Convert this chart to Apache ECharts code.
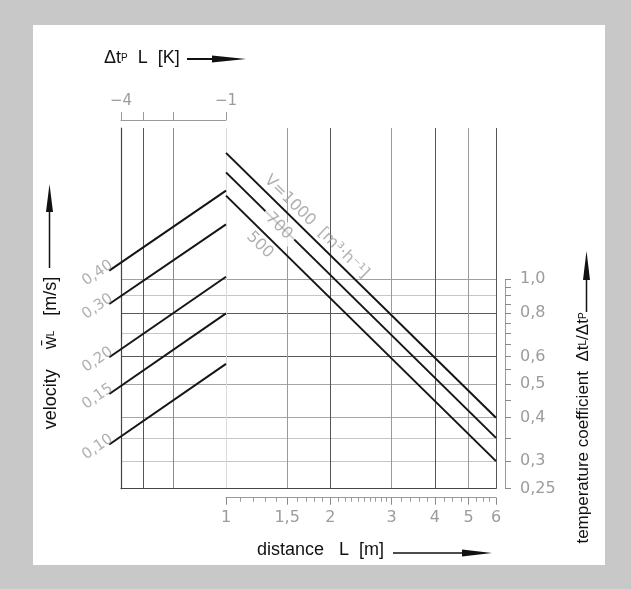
<!DOCTYPE html>
<html>
<head>
<meta charset="utf-8">
<script src="https://cdn.jsdelivr.net/npm/echarts@6/dist/echarts.min.js"></script>
<style>
  html, body { margin: 0; padding: 0; background: #c8c8c8; }
  #chart { width: 631px; height: 589px; }
</style>
</head>
<body>
<div id="chart"></div>
<script>
// Flow-rate lines: temperature coefficient at both ends of the distance range
const flowRates = ['1000', '700', '500'];
const distanceEnds = [1, 6];
const coefAtStart = [2.31, 2.03, 1.74];
const coefAtEnd = [0.40, 0.35, 0.30];

// Velocity lines on the Δtp·L side (|Δtp·L| in K, plotted on the shared coefficient scale)
const velocities = ['0,40', '0,30', '0,20', '0,15', '0,10'];
const dtLEnds = [4.67, 1];
const velStart = [1.059, 0.849, 0.597, 0.468, 0.335];
const velEnd = [1.798, 1.439, 1.017, 0.798, 0.571];

// Distance axis (m)
const distanceTicks = [1, 1.5, 2, 3, 4, 5, 6];
const distanceLabels = ['1', '1,5', '2', '3', '4', '5', '6'];
const distanceMinorTicks = [1.1, 1.2, 1.3, 1.4, 1.6, 1.7, 1.8, 1.9, 2.1, 2.2, 2.3, 2.4, 2.5,
  2.6, 2.7, 2.8, 2.9, 3.2, 3.4, 3.6, 3.8, 4.25, 4.5, 4.75, 5.25, 5.5, 5.75];

// Δtp·L axis (K), drawn reversed
const dtLTicks = [1, 2, 3, 4];
const dtLLabeled = [1, 4];
const dtLLabels = ['−1', '−4'];

// Temperature coefficient axis
const coefTicks = [0.25, 0.3, 0.35, 0.4, 0.45, 0.5, 0.55, 0.6, 0.65, 0.7, 0.75, 0.8, 0.85, 0.9, 0.95, 1.0];
const coefLabeled = [0.25, 0.3, 0.4, 0.5, 0.6, 0.8, 1.0];
const coefLabels = ['0,25', '0,3', '0,4', '0,5', '0,6', '0,8', '1,0'];
const coefGrid = [0.3, 0.35, 0.4, 0.5, 0.6, 0.7, 0.8, 0.9, 1.0];

// ---- layout ----
const W = 631, H = 589;
const PLOT_TOP = 128, PLOT_BOTTOM_Y = 488.7;
const X_EXT = 107, X_LEFT = 121, X_MID = 226, X_RIGHT = 496;
const DECADE_PX = 347.8;              // pixels per decade on the log-log part
const COEF_MIN = 0.25;
const COEF_MAX = COEF_MIN * Math.pow(10, (PLOT_BOTTOM_Y - PLOT_TOP) / DECADE_PX);
const COEF_BRACKET_TOP = PLOT_BOTTOM_Y - DECADE_PX * Math.log10(1.0 / COEF_MIN);
const DTL_MAX = 4;
const DTL_EXT_MAX = Math.pow(DTL_MAX, (X_MID - X_EXT) / (X_MID - X_LEFT));  // same scale, widened to the left

const tickFont = { color: '#9c9c9c', fontFamily: 'DejaVu Sans', fontSize: 16 };
const titleFont = 'Liberation Sans, Arial, sans-serif';
const lookup = (vals, labels) => v => {
  const i = vals.findIndex(t => Math.abs(t - v) < 1e-6);
  return i < 0 ? '' : labels[i];
};

const hidden = { show: false };
const coefGridColors = ['#c6c6c6', '#c6c6c6', '#a6a6a6', '#a6a6a6', '#5a5a5a', '#c6c6c6', '#5a5a5a', '#c6c6c6', '#a0a0a0'];

const chart = echarts.init(document.getElementById('chart'), null, { renderer: 'canvas' });

const series = [];
velocities.forEach((v, i) => {
  series.push({
    type: 'line', xAxisIndex: 5, yAxisIndex: 3, clip: false, showSymbol: false, silent: true,
    lineStyle: { color: '#151515', width: 2 },
    data: [[dtLEnds[0], velStart[i]], [dtLEnds[1], velEnd[i]]]
  });
});
series.push({
  type: 'scatter', xAxisIndex: 5, yAxisIndex: 3, clip: false, symbolSize: 0, silent: true, z: 5,
  data: velocities.map((v, i) => ({ name: v, value: [dtLEnds[0], velStart[i]] })),
  label: Object.assign({ show: true, formatter: '{b}', position: 'inside', offset: [-11, -4.5], rotate: 34.4 },
    tickFont, { fontSize: 15 })
});
flowRates.forEach((f, i) => {
  series.push({
    type: 'line', xAxisIndex: 2, yAxisIndex: 1, clip: false, showSymbol: false, silent: true,
    lineStyle: { color: '#151515', width: 2 },
    data: [[distanceEnds[0], coefAtStart[i]], [distanceEnds[1], coefAtEnd[i]]]
  });
});
series.push({
  type: 'scatter', xAxisIndex: 2, yAxisIndex: 1, clip: false, symbolSize: 0, silent: true, z: 5,
  data: [
    { name: 'V=' + flowRates[0] + '  [m³·h⁻¹]', value: [1.823, 1.416] },
    { name: flowRates[1], value: [1.42, 1.42], label: { backgroundColor: '#ffffff', padding: [1, 5] } },
    { name: flowRates[2], value: [1.252, 1.255] }
  ],
  label: Object.assign({ show: true, formatter: '{b}', position: 'inside', rotate: -44.5 }, tickFont)
});

const gridBase = { containLabel: false, outerBoundsMode: 'none', top: PLOT_TOP, bottom: H - PLOT_BOTTOM_Y };

const option = {
  backgroundColor: '#c8c8c8',
  animation: false,
  grid: [
    Object.assign({ left: X_LEFT, right: W - X_MID }, gridBase),
    Object.assign({ left: X_MID, right: W - X_RIGHT }, gridBase),
    Object.assign({}, gridBase, { left: X_MID, right: W - X_RIGHT, top: COEF_BRACKET_TOP }),
    Object.assign({ left: X_EXT, right: W - X_MID }, gridBase)
  ],
  xAxis: [
    { // 0: Δtp·L, box bottom + vertical grid
      gridIndex: 0, type: 'log', inverse: true, min: 1, max: DTL_MAX, position: 'bottom',
      axisLine: { show: true, lineStyle: { color: '#444', width: 1.2 } },
      axisTick: { show: false, customValues: [2, 3] }, axisLabel: hidden,
      splitLine: { show: true, lineStyle: { color: ['#8c8c8c', '#555'], width: 1 } }
    },
    { // 1: Δtp·L bracket scale on top
      gridIndex: 0, type: 'log', inverse: true, min: 1, max: DTL_MAX, position: 'top', offset: 8,
      axisLine: { show: true, lineStyle: { color: '#9a9a9a', width: 1 } },
      axisTick: { show: true, customValues: dtLTicks, length: 8, lineStyle: { color: '#9a9a9a' } },
      axisLabel: { show: true, customValues: dtLLabeled, formatter: lookup(dtLLabeled, dtLLabels), margin: 11,
        fontSize: 15, color: tickFont.color, fontFamily: tickFont.fontFamily },
      splitLine: hidden
    },
    { // 2: distance, box bottom + vertical grid
      gridIndex: 1, type: 'log', min: 1, max: 6, position: 'bottom',
      axisLine: { show: true, lineStyle: { color: '#444', width: 1.2 } },
      axisTick: { show: false, customValues: distanceTicks }, axisLabel: hidden,
      splitLine: { show: true, lineStyle: { color: ['#dadada', '#9a9a9a', '#555', '#9a9a9a', '#555', '#9a9a9a', '#555'], width: 1 } }
    },
    { // 3: distance bracket scale, major ticks and labels
      gridIndex: 1, type: 'log', min: 1, max: 6, position: 'bottom', offset: 9,
      axisLine: { show: true, lineStyle: { color: '#9a9a9a', width: 1 } },
      axisTick: { show: true, customValues: distanceTicks, length: 7, lineStyle: { color: '#8a8a8a' } },
      axisLabel: Object.assign({ show: true, customValues: distanceTicks, formatter: lookup(distanceTicks, distanceLabels), margin: 12 }, tickFont),
      splitLine: hidden
    },
    { // 4: distance bracket scale, minor ticks
      gridIndex: 1, type: 'log', min: 1, max: 6, position: 'bottom', offset: 9,
      axisLine: hidden,
      axisTick: { show: true, customValues: distanceMinorTicks, length: 4, lineStyle: { color: '#9a9a9a' } },
      axisLabel: hidden, splitLine: hidden
    },
    { // 5: Δtp·L widened for the velocity lines
      gridIndex: 3, type: 'log', inverse: true, min: 1, max: DTL_EXT_MAX, show: false
    },
    { gridIndex: 2, type: 'log', min: 1, max: 6, show: false }
  ],
  yAxis: [
    { // 0: left part, box left edge + horizontal grid
      gridIndex: 0, type: 'log', min: COEF_MIN, max: COEF_MAX, position: 'left',
      axisLine: { show: true, lineStyle: { color: '#444', width: 1.2 } },
      axisTick: { show: false, customValues: coefGrid }, axisLabel: hidden,
      splitLine: { show: true, lineStyle: { color: coefGridColors, width: 1 } }
    },
    { // 1: right part, horizontal grid
      gridIndex: 1, type: 'log', min: COEF_MIN, max: COEF_MAX,
      axisLine: hidden, axisTick: { show: false, customValues: coefGrid }, axisLabel: hidden,
      splitLine: { show: true, lineStyle: { color: coefGridColors, width: 1 } }
    },
    { // 2: coefficient bracket scale on the right
      gridIndex: 2, type: 'log', min: COEF_MIN, max: 1.0, position: 'right', offset: 9,
      axisLine: { show: true, lineStyle: { color: '#9a9a9a', width: 1 } },
      axisTick: { show: true, customValues: coefTicks, length: 6, lineStyle: { color: '#8a8a8a' } },
      axisLabel: Object.assign({ show: true, customValues: coefLabeled, formatter: lookup(coefLabeled, coefLabels), margin: 15 }, tickFont),
      splitLine: hidden
    },
    { gridIndex: 3, type: 'log', min: COEF_MIN, max: COEF_MAX, show: false }
  ],
  graphic: [
    { type: 'rect', z: -100, shape: { x: 33, y: 25, width: 572, height: 540 }, style: { fill: '#ffffff' } },
    // top title with arrow
    { type: 'text', x: 104, y: 58, style: {
        text: '{a|Δt}{s|P}{a|  L  [K]}', verticalAlign: 'middle', align: 'left',
        rich: { a: { fontFamily: titleFont, fontSize: 18, fill: '#111' }, s: { fontFamily: titleFont, fontSize: 10, fill: '#111' } } } },
    { type: 'line', shape: { x1: 187, y1: 59, x2: 222, y2: 59 }, style: { stroke: '#111', lineWidth: 2 } },
    { type: 'polygon', shape: { points: [[212, 55.5], [246, 59], [212, 62.5]] }, style: { fill: '#111' } },
    // bottom title with arrow
    { type: 'text', x: 257, y: 550, style: {
        text: 'distance   L  [m]', font: '18px ' + titleFont, fill: '#111', verticalAlign: 'middle', align: 'left' } },
    { type: 'line', shape: { x1: 393, y1: 553, x2: 470, y2: 553 }, style: { stroke: '#111', lineWidth: 1.5 } },
    { type: 'polygon', shape: { points: [[462, 549.5], [492, 553], [462, 556.5]] }, style: { fill: '#111' } },
    // left title with arrow
    { type: 'text', x: 51, y: 353, rotation: Math.PI / 2, style: {
        text: '{a|velocity    w\u0304}{s|L}{a|   [m/s]}', verticalAlign: 'middle', align: 'center',
        rich: { a: { fontFamily: titleFont, fontSize: 18, fill: '#111' }, s: { fontFamily: titleFont, fontSize: 10, fill: '#111' } } } },
    { type: 'line', shape: { x1: 49.5, y1: 268, x2: 49.5, y2: 205 }, style: { stroke: '#111', lineWidth: 1.5 } },
    { type: 'polygon', shape: { points: [[46, 212], [49.5, 184], [53, 212]] }, style: { fill: '#111' } },
    // right title with arrow
    { type: 'text', x: 583, y: 428, rotation: Math.PI / 2, style: {
        text: '{a|temperature coefficient  Δt}{s|L}{a|/Δt}{s|P}', verticalAlign: 'middle', align: 'center',
        rich: { a: { fontFamily: titleFont, fontSize: 17, fill: '#111' }, s: { fontFamily: titleFont, fontSize: 10, fill: '#111' } } } },
    { type: 'line', shape: { x1: 586.5, y1: 312, x2: 586.5, y2: 272 }, style: { stroke: '#111', lineWidth: 1.5 } },
    { type: 'polygon', shape: { points: [[583, 280], [586.5, 251], [590, 280]] }, style: { fill: '#111' } }
  ],
  series: series
};

chart.setOption(option);
</script>
</body>
</html>
